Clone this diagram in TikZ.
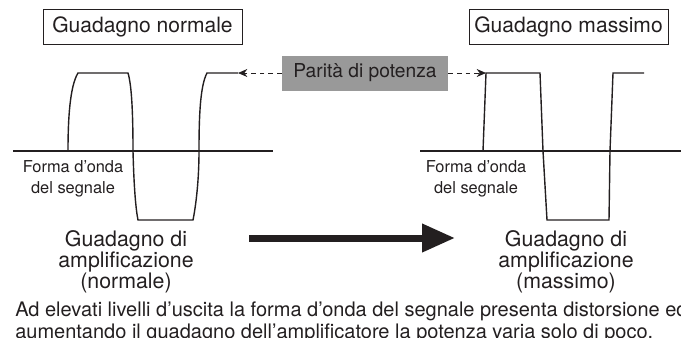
\documentclass[tikz,border=0pt]{standalone}
\usepackage{fontspec}
\setmainfont{TeX Gyre Heros}
\usepackage{xcolor}
\usetikzlibrary{arrows.meta, positioning, calc}
\definecolor{ink}{HTML}{231F20}
\definecolor{boxgray}{HTML}{999999}

\begin{document}
\begin{tikzpicture}[x=0.75pt, y=-0.75pt,
      gainbox/.style={draw=ink, line width=0.6pt, minimum width=149.25pt, minimum height=26.25pt, inner sep=0pt, text=ink, font=\fontsize{15.8}{18}\selectfont},
      wave/.style={ink, line width=1.05pt},
      gainlabel/.style={align=center, anchor=north, inner sep=0pt, text=ink, font=\fontsize{16}{15.8}\selectfont},
      formlabel/.style={align=center, anchor=north, inner sep=0pt, text=ink, font=\fontsize{12.3}{15.8}\selectfont},
      link/.style={ink, line width=0.6pt, dash pattern=on 3.5pt off 3pt, -{Stealth[length=7pt, width=6pt]}}]
      \useasboundingbox (0,0) rectangle (681,337);
      \clip (0,0) rectangle (681,337);

      \node[gainbox] (normale) at (142.5,26.5) {Guadagno normale};
      \node[gainbox] (massimo) at (568.5,26.5) {Guadagno massimo};

      \draw[wave] (13,151) -- (273,151);
      \draw[wave] (420,151) -- (681,151);

      \draw[wave] (68,151) .. controls (68,118) and (70,86) .. (78,73) -- (128,73)
        .. controls (132,86) and (133,118) .. (133,151)
        .. controls (134,190) and (136,210) .. (138,220) -- (193,220)
        .. controls (196,205) and (199,180) .. (199,151)
        .. controls (199,118) and (200,86) .. (207,73) -- (238,73) coordinate (ltop);
      \draw[wave] (483,151) -- (486,73) coordinate (rtop) -- (540,73) -- (543,151) -- (547,220)
        -- (609,220) -- (610,151) -- (613,73) -- (644,73);

      \node[fill=boxgray, minimum width=124.5pt, minimum height=26.25pt, inner sep=0pt, text=ink, font=\fontsize{14.4}{16}\selectfont] (parita) at (365,73) {Parità di potenza};
      \draw[link] (parita.west) -- (ltop);
      \draw[link] (parita.east) -- (rtop);

      \node[formlabel] (forma l) at (73,160) {Forma d’onda\\del segnale};
      \node[formlabel] (forma r) at (476,160) {Forma d’onda\\del segnale};

      \node[gainlabel] (gain l) at (126,230.5) {Guadagno di\\amplificazione\\(normale)};
      \node[gainlabel] (gain r) at (566,230.5) {Guadagno di\\amplificazione\\(massimo)};

      \coordinate (big start) at (249,238);
      \coordinate (big end) at (455,238);
      \draw[ink, line width=5.25pt, -{Triangle[length=24.75pt, width=20.25pt]}] (big start) -- (big end);

      \node[anchor=north west, align=left, inner sep=0pt, text=ink, font=\fontsize{15}{16.5}\selectfont] (nota) at (15,302) {Ad elevati livelli d’uscita la forma d’onda del segnale presenta distorsione ed\\aumentando il guadagno dell’amplificatore la potenza varia solo di poco.};
    \end{tikzpicture}
\end{document}
